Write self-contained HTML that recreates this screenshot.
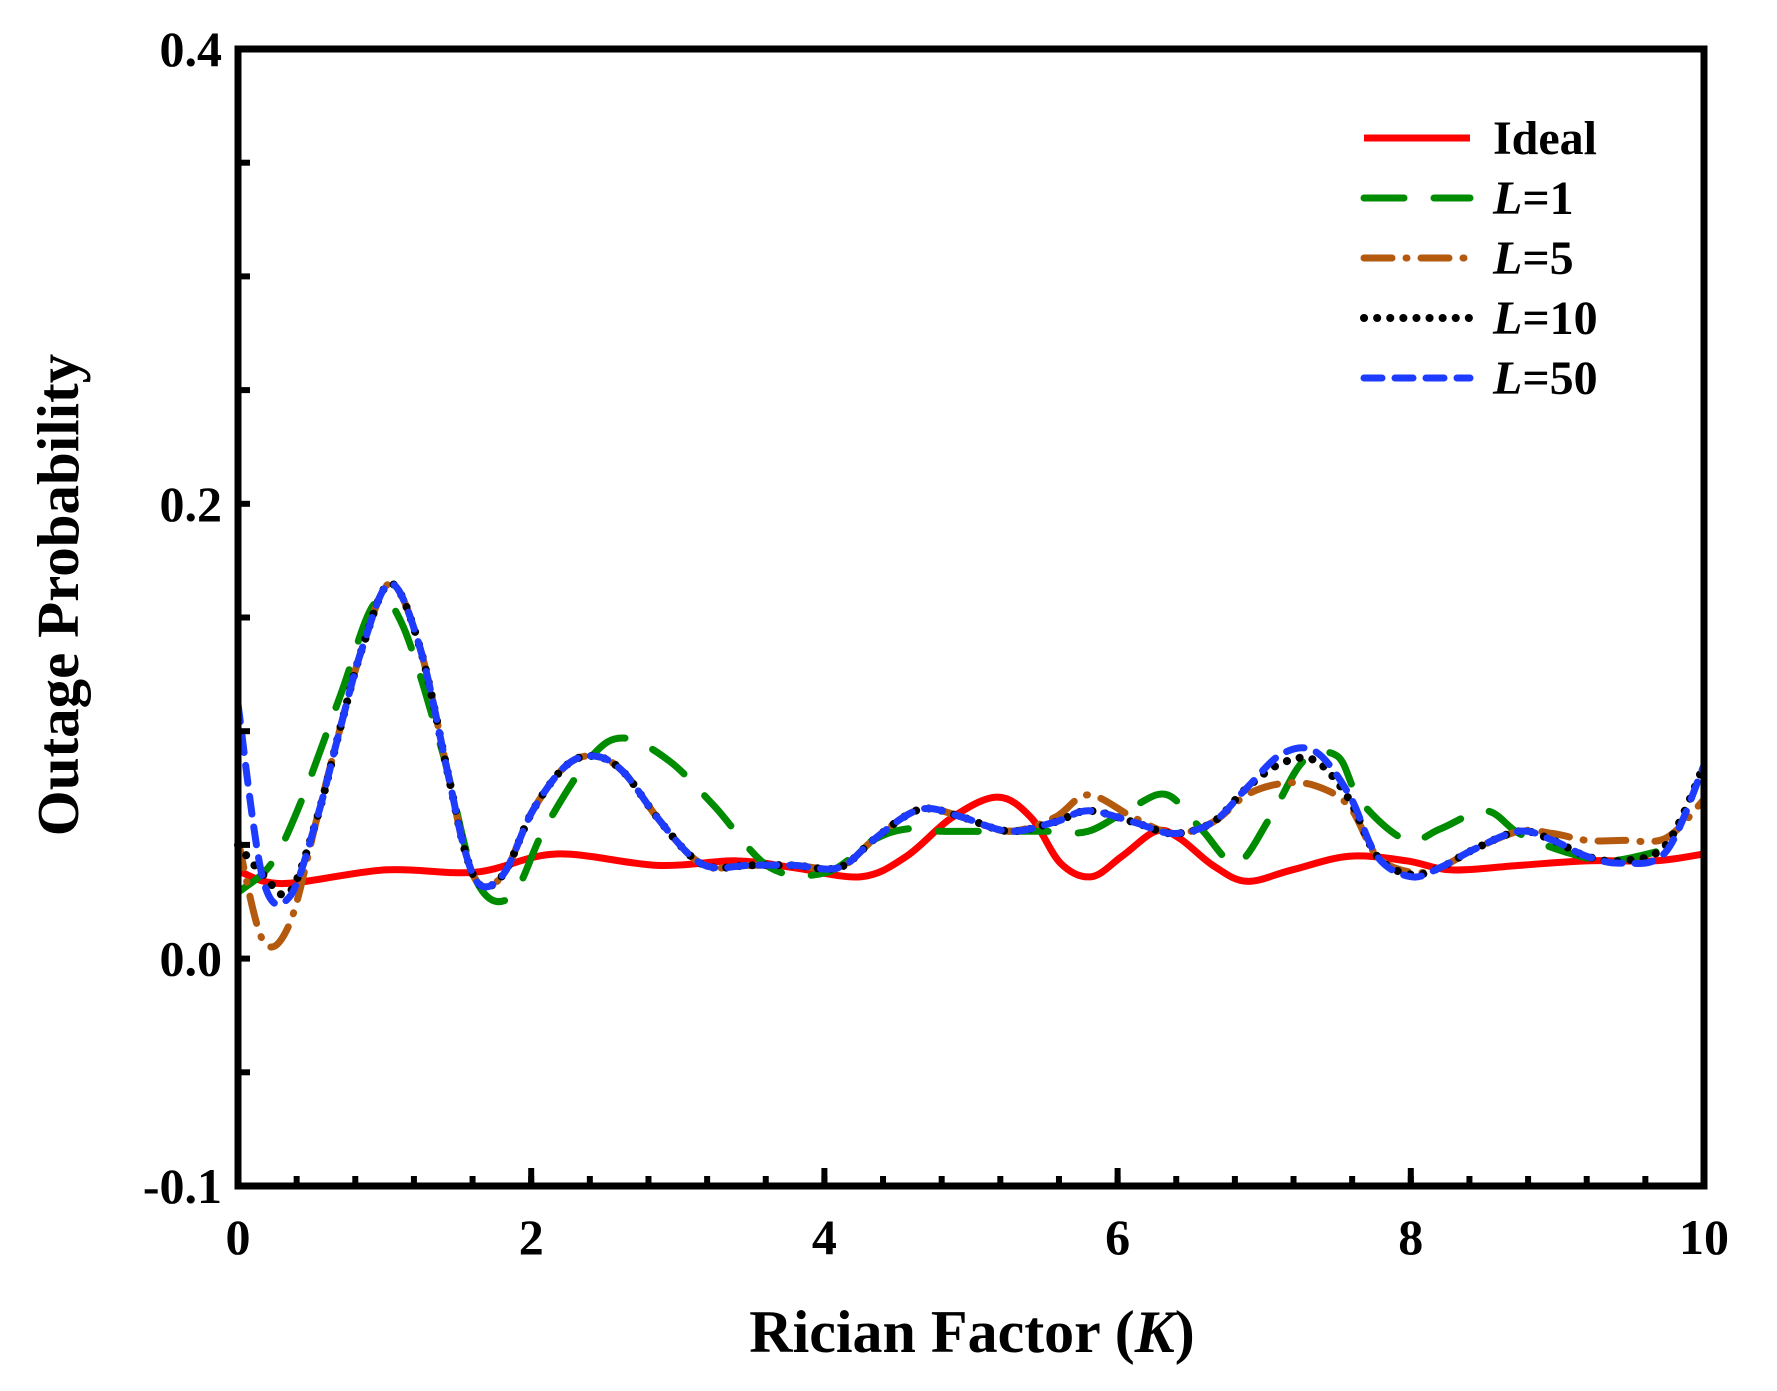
<!DOCTYPE html>
<html><head><meta charset="utf-8"><style>
html,body{margin:0;padding:0;background:#fff;}
svg{display:block;font-family:"Liberation Serif",serif;font-weight:bold;}
</style></head><body>
<svg id="chart" width="1777" height="1391" viewBox="0 0 1777 1391" xmlns="http://www.w3.org/2000/svg">
<g id="series"></g>
<rect x="238" y="49" width="1466" height="1137" fill="none" stroke="#000" stroke-width="7"/>
<g id="axes"></g>
<text x="972" y="1352" font-size="60" text-anchor="middle">Rician Factor (<tspan font-style="italic">K</tspan>)</text>
<text transform="translate(78,595) rotate(-90)" font-size="59" text-anchor="middle">Outage Probability</text>
<g id="legend"></g>
</svg>
<script>
const xTicks=[0,2,4,6,8,10];
const yTicks=[-0.1,0.0,0.2,0.4];
const yTickLabels=["-0.1","0.0","0.2","0.4"];
const kIdeal=[0.02,0.31,1.0,1.62,2.17,2.86,3.4,3.79,4.25,4.56,4.87,5.18,5.41,5.61,5.82,6.03,6.26,6.42,6.65,6.88,7.19,7.58,7.97,8.28,8.74,9.2,9.67,10];
const pIdeal=[0.038,0.033,0.039,0.038,0.046,0.041,0.043,0.040,0.036,0.045,0.062,0.071,0.062,0.042,0.036,0.045,0.056,0.053,0.041,0.034,0.039,0.045,0.043,0.039,0.041,0.043,0.043,0.046];
const kL1=[0.02,0.23,0.43,0.70,0.93,1.12,1.39,1.62,1.86,2.09,2.40,2.63,2.94,3.25,3.63,4.02,4.33,4.56,4.80,5.18,5.49,5.80,6.11,6.34,6.57,6.81,7.04,7.27,7.50,7.66,7.97,8.20,8.51,8.74,9.05,9.36,9.74];
const pL1=[0.030,0.042,0.069,0.116,0.156,0.147,0.092,0.035,0.027,0.057,0.088,0.097,0.087,0.067,0.040,0.038,0.052,0.057,0.056,0.056,0.056,0.056,0.067,0.072,0.057,0.042,0.062,0.087,0.089,0.069,0.052,0.057,0.065,0.055,0.047,0.043,0.048];
const kL=[0.00,0.17,0.35,0.54,0.70,0.85,1.04,1.24,1.43,1.55,1.66,1.82,2.01,2.24,2.44,2.63,2.86,3.09,3.25,3.48,3.79,4.10,4.33,4.56,4.72,4.95,5.26,5.57,5.80,6.11,6.38,6.65,6.88,7.12,7.35,7.58,7.77,8.00,8.20,8.43,8.74,8.97,9.20,9.44,9.74,10.0];
const pL50=[0.112,0.035,0.027,0.062,0.102,0.137,0.165,0.137,0.082,0.047,0.032,0.038,0.065,0.085,0.089,0.082,0.062,0.045,0.040,0.041,0.041,0.040,0.052,0.063,0.066,0.062,0.056,0.060,0.065,0.060,0.055,0.060,0.075,0.090,0.091,0.072,0.045,0.036,0.040,0.048,0.056,0.052,0.045,0.042,0.047,0.085];
const pL10=[0.050,0.037,0.029,0.062,0.102,0.137,0.165,0.137,0.082,0.047,0.032,0.038,0.065,0.085,0.089,0.082,0.062,0.045,0.040,0.041,0.041,0.040,0.052,0.063,0.066,0.062,0.056,0.060,0.065,0.060,0.055,0.060,0.075,0.086,0.087,0.070,0.045,0.037,0.040,0.048,0.056,0.052,0.045,0.043,0.050,0.085];
const pL5=[0.052,0.008,0.015,0.062,0.102,0.137,0.165,0.137,0.082,0.047,0.032,0.038,0.065,0.085,0.089,0.082,0.062,0.045,0.040,0.041,0.041,0.040,0.052,0.063,0.066,0.062,0.056,0.062,0.072,0.062,0.055,0.060,0.072,0.077,0.076,0.067,0.045,0.038,0.040,0.048,0.056,0.055,0.052,0.052,0.053,0.070];

const X0=238,X1=1704,Y0=1186,Y1=49,YMIN=-0.1,YMAX=0.4;
function sx(k){return X0+k/10*(X1-X0);}
function sy(v){return Y0-(v-YMIN)/(YMAX-YMIN)*(Y0-Y1);}
const NS="http://www.w3.org/2000/svg";
function mk(t,a){const e=document.createElementNS(NS,t);for(const k in a)e.setAttribute(k,a[k]);return e;}
function pathD(ks,ps){
  const pts=ks.map((k,i)=>[sx(k),sy(ps[i])]);
  let d="M"+pts[0][0]+","+pts[0][1];
  for(let i=0;i<pts.length-1;i++){
    const p0=pts[Math.max(0,i-1)],p1=pts[i],p2=pts[i+1],p3=pts[Math.min(pts.length-1,i+2)];
    const c1=[p1[0]+(p2[0]-p0[0])/6,p1[1]+(p2[1]-p0[1])/6];
    const c2=[p2[0]-(p3[0]-p1[0])/6,p2[1]-(p3[1]-p1[1])/6];
    d+=" C"+c1[0]+","+c1[1]+" "+c2[0]+","+c2[1]+" "+p2[0]+","+p2[1];
  }
  return d;
}
const axes=document.getElementById('axes');
for(let k=0.4;k<10;k+=0.4){
  const t=mk('line',{x1:sx(k),x2:sx(k),y1:Y0,y2:Y0-10,stroke:'#000','stroke-width':6});
  
  
  axes.appendChild(t);
}
for(let v=-0.05;v<0.4;v+=0.05){
  const t=mk('line',{x1:X0,x2:X0+12,y1:sy(v),y2:sy(v),stroke:'#000','stroke-width':6});
  
  
  axes.appendChild(t);
}
xTicks.forEach(k=>{
  const t=mk('line',{x1:sx(k),x2:sx(k),y1:Y0,y2:Y0-18,stroke:'#000','stroke-width':6});
  
  
  axes.appendChild(t);
  const l=mk('text',{x:sx(k),y:1254,'font-size':50,'text-anchor':'middle'});
  l.textContent=String(k);
  
  
  axes.appendChild(l);
});
yTicks.forEach((v,i)=>{
  const l=mk('text',{x:222,y:sy(v)+17,'font-size':50,'text-anchor':'end'});
  l.textContent=yTickLabels[i];
  
  
  axes.appendChild(l);
});
const series=[
  {name:'Ideal',k:kIdeal,p:pIdeal,c:'#ff0000',dash:'',cap:'butt',id:'ideal'},
  {name:'L=1',k:kL1,p:pL1,c:'#008c00',dash:'40 30',cap:'round',id:'l1'},
  {name:'L=5',k:kL,p:pL5,c:'#b35a0f',dash:'28 14 1 14',cap:'round',id:'l5'},
  {name:'L=10',k:kL,p:pL10,c:'#000000',dash:'0.1 13',cap:'round',id:'l10'},
  {name:'L=50',k:kL,p:pL50,c:'#1e3cff',dash:'18 13',cap:'round',id:'l50'}
];
const sg=document.getElementById('series');
const lg=document.getElementById('legend');
series.forEach((s,i)=>{
  const a={d:pathD(s.k,s.p),fill:'none',stroke:s.c,'stroke-width':s.id==='l10'?8:7,'stroke-linecap':s.cap,'stroke-linejoin':'round'};
  if(s.dash)a['stroke-dasharray']=s.dash;
  const p=mk('path',a);
  
  
  sg.appendChild(p);
  const y=138+i*60;
  const la={x1:1364,x2:1470,y1:y,y2:y,stroke:s.c,'stroke-width':s.id==='l10'?8:7,'stroke-linecap':s.cap};
  if(s.dash)la['stroke-dasharray']=s.dash;
  const ll=mk('line',la);
  
  
  lg.appendChild(ll);
  const t=mk('text',{x:1493,y:y+16,'font-size':48});
  if(s.name==='Ideal'){t.textContent='Ideal';}
  else{const it=mk('tspan',{'font-style':'italic'});it.textContent='L';t.appendChild(it);t.appendChild(document.createTextNode(s.name.slice(1)));}
  
  
  lg.appendChild(t);
});
</script>
</body></html>
